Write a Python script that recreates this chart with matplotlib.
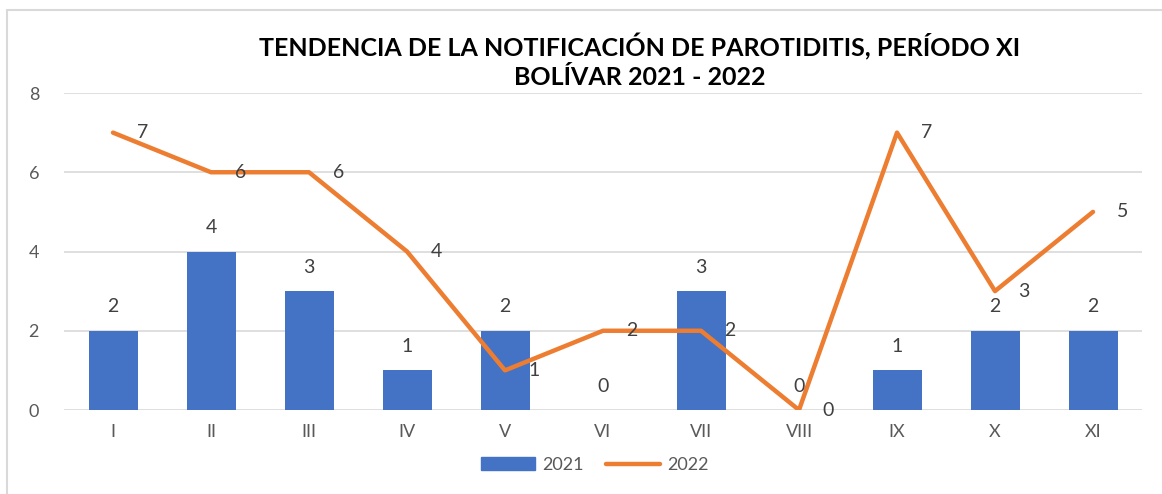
import matplotlib
matplotlib.use("Agg")
import matplotlib.pyplot as plt
from matplotlib.patches import Rectangle
from matplotlib.lines import Line2D

categories = ["I", "II", "III", "IV", "V", "VI", "VII", "VIII", "IX", "X", "XI"]
values_2021 = [2, 4, 3, 1, 2, 0, 3, 0, 1, 2, 2]
values_2022 = [7, 6, 6, 4, 1, 2, 2, 0, 7, 3, 5]
title = "TENDENCIA DE LA NOTIFICACIÓN DE PAROTIDITIS, PERÍODO XI\nBOLÍVAR 2021 - 2022"

plt.rcParams['font.family'] = ['Lato', 'DejaVu Sans']

W, H = 1162, 494
fig = plt.figure(figsize=(W/100, H/100), dpi=100)
ax = fig.add_axes([64/W, 84/H, (1142-64)/W, (410-93)/H])

blue = "#4472C4"
orange = "#ED7D31"
grey_text = "#595959"

x = list(range(len(categories)))
ax.bar(x, values_2021, width=0.5, color=blue, zorder=2)
ax.plot(x, values_2022, color=orange, lw=3.2, solid_capstyle='round', solid_joinstyle='round', zorder=3)

for xi, v in zip(x, values_2021):
    ax.annotate(str(v), (xi, v), xytext=(0, 11), textcoords='offset points',
                ha='center', va='bottom', fontsize=14, color="#404040", zorder=4)
for xi, v in zip(x, values_2022):
    ax.annotate(str(v), (xi, v), xytext=(17, 0), textcoords='offset points',
                ha='left', va='center', fontsize=14, color="#404040", zorder=4)

ax.set_xlim(-0.5, len(categories) - 0.5)
ax.set_ylim(0, 8)
ax.set_yticks([0, 2, 4, 6, 8])
ax.set_xticks(x)
ax.set_xticklabels(categories)
ax.tick_params(axis='both', length=0, labelsize=13, colors=grey_text)
ax.tick_params(axis='y', pad=18)
ax.tick_params(axis='x', pad=10)
ax.grid(axis='y', color="#D9D9D9", lw=1.2, zorder=0)
ax.set_axisbelow(True)
for s in ax.spines.values():
    s.set_visible(False)

fig.text(640/W, 1 - 61/H, title, ha='center', va='center', fontsize=18,
         fontweight='bold', color='black', linespacing=1.3)

handles = [Rectangle((0, 0), 1, 1, color=blue),
           Line2D([0], [0], color=orange, lw=3.2, solid_capstyle='round')]
fig.legend(handles, ["2021", "2022"], loc='center', bbox_to_anchor=(595/W, 1 - 465/H),
           ncol=2, frameon=False, fontsize=13, labelcolor=grey_text,
           handlelength=3.0, handletextpad=0.4, columnspacing=1.2)

fig.patches.append(Rectangle((7/W, -0.05), 1.2, 1 - 10/H + 0.05, transform=fig.transFigure,
                             fill=False, edgecolor="#D9D9D9", lw=1.5))

fig.savefig("out.png", dpi=100)
